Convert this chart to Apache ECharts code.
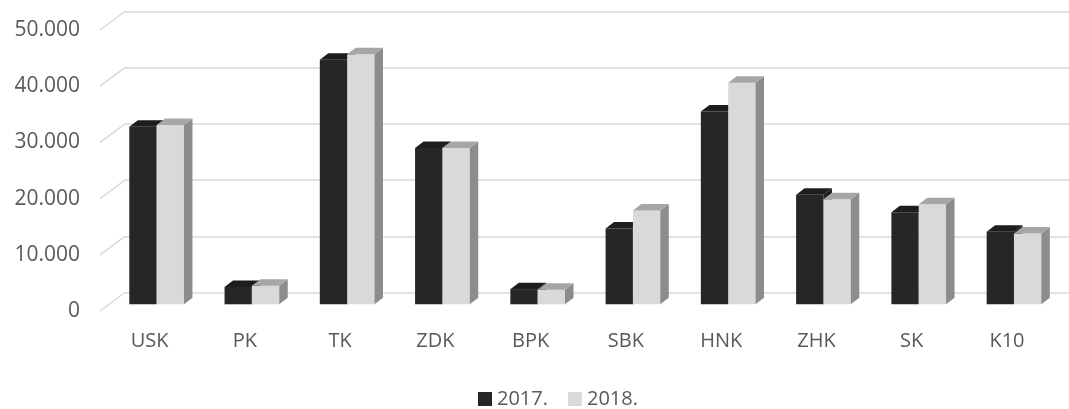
<!DOCTYPE html>
<html>
<head>
<meta charset="utf-8">
<script src="https://cdn.jsdelivr.net/npm/echarts@6/dist/echarts.min.js"></script>
<style>
    html,body{margin:0;padding:0;background:#fff;}
    #chart{width:1069px;height:409px;}
</style>
</head>
<body>
<div id="chart"></div>
<script>
var categories = ['USK','PK','TK','ZDK','BPK','SBK','HNK','ZHK','SK','K10'];
var values2017 = [31600,3100,43500,27800,2700,13500,34300,19500,16400,12900];
var values2018 = [31900,3300,44500,27800,2600,16700,39400,18700,17800,12600];
var yTicks = [0,10000,20000,30000,40000,50000];
var yTickLabels = ['0','10.000','20.000','30.000','40.000','50.000'];

var gridColor = '#d9d9d9';
var textColor = '#595959';
var font = 'Open Sans';

// depth of the fake 3d boxes
var depthX = 8.5;
var depthY = -6.5;

function barRenderer(side, front, top, right){
    return function(params, api){
        var idx = api.value(0);
        var base = api.coord([idx, 0]);
        var peak = api.coord([idx, api.value(1)]);
        var w = api.size([1, 0])[0] * 0.287;
        var x0 = side < 0 ? base[0] - w : base[0];
        var x1 = x0 + w;
        var yb = base[1];
        var yt = peak[1];
        return {
            type: 'group',
            children: [
                {
                    type: 'rect',
                    shape: {x: x0, y: yt, width: w, height: yb - yt},
                    style: {fill: front}
                },
                {
                    type: 'polygon',
                    shape: {points: [[x1, yt], [x1 + depthX, yt + depthY], [x1 + depthX, yb + depthY], [x1, yb]]},
                    style: {fill: right}
                },
                {
                    type: 'polygon',
                    shape: {points: [[x0, yt], [x1, yt], [x1 + depthX, yt + depthY], [x0 + depthX, yt + depthY]]},
                    style: {fill: top}
                }
            ]
        };
    };
}

var chart = echarts.init(document.getElementById('chart'));
chart.setOption({
    animation: false,
    textStyle: {fontFamily: font},
    legend: {
        data: ['2017.', '2018.'],
        left: 473,
        top: 384,
        icon: 'rect',
        itemWidth: 14,
        itemHeight: 14,
        itemGap: 20,
        textStyle: {color: textColor, fontSize: 20, fontFamily: font}
    },
    grid: [
        {left: 125, right: 0, top: 11.5, height: 281},
        {left: 102, right: 14.4, top: 30, height: 281},
        {left: 109, right: 7.4, top: 23.3, height: 281}
    ],
    xAxis: [
        {type: 'category', gridIndex: 0, data: categories, show: false},
        {
            type: 'category', gridIndex: 1, data: categories,
            axisLine: {show: false}, axisTick: {show: false},
            axisLabel: {color: textColor, fontSize: 20, fontFamily: font, margin: 20}
        },
        {type: 'category', gridIndex: 2, data: categories, show: false}
    ],
    yAxis: [
        {
            type: 'value', gridIndex: 0, min: 0, max: 50000, interval: 10000,
            axisLine: {show: false}, axisTick: {show: false}, axisLabel: {show: false},
            splitLine: {show: true, lineStyle: {color: gridColor, width: 1.5}}
        },
        {
            type: 'value', gridIndex: 1, min: 0, max: 50000, interval: 10000,
            axisLine: {show: false}, axisTick: {show: false}, splitLine: {show: false},
            axisLabel: {
                color: textColor, fontSize: 21, fontFamily: font, margin: 22,
                formatter: function(value){
                    return yTickLabels[yTicks.indexOf(value)];
                }
            }
        },
        {type: 'value', gridIndex: 2, min: 0, max: 50000, show: false, splitLine: {show: false}}
    ],
    series: [
        {
            // side wall lines from the back wall down to the labels
            type: 'custom',
            xAxisIndex: 0,
            yAxisIndex: 0,
            silent: true,
            data: yTicks.map(function(v){ return [0, v]; }),
            renderItem: function(params, api){
                var y = api.coord([0, api.value(1)])[1];
                var x = params.coordSys.x;
                return {
                    type: 'line',
                    shape: {x1: x, y1: y, x2: x - 25, y2: y + 18.5},
                    style: {stroke: gridColor, lineWidth: 1.5}
                };
            }
        },
        {
            name: '2017.',
            type: 'custom',
            xAxisIndex: 2,
            yAxisIndex: 2,
            itemStyle: {color: '#262626'},
            data: values2017.map(function(v, i){ return [i, v]; }),
            renderItem: barRenderer(-1, '#262626', '#1d1d1d', '#1d1d1d')
        },
        {
            name: '2018.',
            type: 'custom',
            xAxisIndex: 2,
            yAxisIndex: 2,
            itemStyle: {color: '#d9d9d9'},
            data: values2018.map(function(v, i){ return [i, v]; }),
            renderItem: barRenderer(1, '#d9d9d9', '#a6a6a6', '#8c8c8c')
        }
    ]
});
</script>
</body>
</html>
